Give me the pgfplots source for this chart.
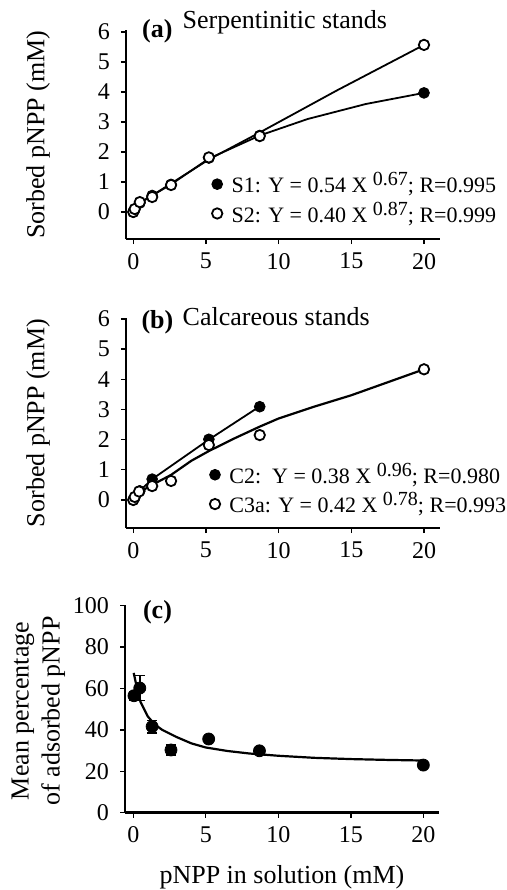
\documentclass[border=0pt]{standalone}
\usepackage{fontspec}
\setmainfont{Liberation Serif}
\usepackage{pgfplots}
\pgfplotsset{compat=1.18}

% 1 px of the reference = 0.5pt
\newcommand{\expo}[1]{\raisebox{3.5pt}{\fontsize{10}{12}\selectfont #1}}

\pgfplotsset{
  panel/.style={
    scale only axis, width=157pt, clip=false,
    axis x line=bottom, axis y line=left,
    axis line style={-, line width=1.4pt},
    tick align=outside, major tick length=2.5pt,
    tick style={line width=0.7pt, black},
    xmin=-0.5, xmax=21.1, xtick={0,5,10,15,20},
    ticklabel style={font=\fontsize{12}{14}\selectfont},
    yticklabel style={xshift=-2pt},
    xticklabel style={yshift=-1pt},
    /pgf/number format/assume math mode=true,
    label style={font=\fontsize{13}{15.5}\selectfont},
    ylabel style={at={(axis description cs:-0.28,0.5)}, anchor=center},
    legend style={draw=none, fill=none, font=\fontsize{11}{13}\selectfont,
      anchor=north west, row sep=-1pt, column sep=2.5pt, inner sep=0pt},
    legend cell align=left,
    legend image code/.code={\draw[mark repeat=2,mark phase=2,#1]
      plot coordinates {(0cm,0cm) (0.2cm,0cm) (0.4cm,0cm)};},
  },
  fitline/.style={black, line width=0.9pt, forget plot},
  openpt/.style={only marks, mark=*, mark size=2.6pt,
    mark options={fill=white, draw=black, line width=0.9pt}},
  fullpt/.style={only marks, mark=*, mark size=2.7pt,
    mark options={fill=black, draw=black}},
}

\begin{document}
\begin{tikzpicture}
\path[use as bounding box] (0,0) rectangle (253.5pt,-445pt);

% ---------- (a) serpentinitic
\begin{axis}[panel, at={(63pt,-119.5pt)}, anchor=south west,
    height=104.25pt, ymin=-0.9, ymax=6.05, ytick={0,...,6},
    ylabel={Sorbed pNPP (mM)},
    legend style={at={(axis description cs:0.272,0.34)}}]
\addplot[fitline] coordinates {
  (0,0) (0.45,0.3) (1.3,0.55) (2.6,0.92) (5.2,1.78) (8.7,2.55) (12,3.1) (16,3.6) (20,3.97)};
\addplot[fitline] coordinates {
  (0,0) (0.45,0.3) (1.3,0.55) (2.6,0.95) (5.2,1.75) (8.7,2.65) (14,4.05) (20,5.57)};
\addplot[fullpt, forget plot] coordinates {
  (0,0) (0.1,0.08) (0.45,0.3) (1.3,0.55) (2.6,0.92) (5.2,1.8) (8.7,2.55) (20,3.97)};
\addplot[openpt, forget plot] coordinates {
  (0,0) (0.1,0.1) (0.45,0.33) (1.3,0.5) (2.6,0.9) (5.2,1.82) (8.7,2.53) (20,5.57)};
\addlegendimage{fullpt}
\addlegendentry{S1: Y = 0.54 X \expo{0.67}; R=0.995}
\addlegendimage{openpt}
\addlegendentry{S2: Y = 0.40 X \expo{0.87}; R=0.999}
\node[font=\fontsize{13}{15}\selectfont, anchor=base]
  at (axis description cs:0.506,1.01) {Serpentinitic stands};
\node[font=\fontsize{13}{15}\selectfont\bfseries, anchor=base west]
  at (axis description cs:0.029,0.964) {(a)};
\end{axis}

% ---------- (b) calcareous
\begin{axis}[panel, at={(63pt,-264pt)}, anchor=south west,
    height=105pt, ymin=-0.93, ymax=6.03, ytick={0,...,6},
    ylabel={Sorbed pNPP (mM)},
    legend style={at={(axis description cs:0.265,0.33)}}]
\addplot[fitline] coordinates {
  (0,0) (0.1,0.07) (0.45,0.3) (1.3,0.69) (5.2,2.0) (8.7,3.1)};
\addplot[fitline, line width=1.1pt] coordinates {
  (0,0) (0.5,0.28) (1.3,0.5) (2.6,0.83) (4,1.3) (5.2,1.62) (7,2.05) (8.7,2.43)
  (10,2.7) (12.5,3.1) (15,3.47) (17.5,3.9) (20,4.33)};
\addplot[fullpt, forget plot] coordinates {
  (0,0) (0.1,0.07) (0.45,0.3) (1.3,0.69) (5.2,2.01) (8.7,3.09)};
\addplot[openpt, forget plot] coordinates {
  (0,0) (0.1,0.1) (0.4,0.28) (1.3,0.46) (2.6,0.63) (5.2,1.82) (8.7,2.15) (20,4.33)};
\addlegendimage{fullpt}
\addlegendentry{C2:\enspace Y = 0.38 X \expo{0.96}; R=0.980}
\addlegendimage{openpt}
\addlegendentry{C3a: Y = 0.42 X \expo{0.78}; R=0.993}
\node[font=\fontsize{13}{15}\selectfont, anchor=base west]
  at (axis description cs:0.158,0.962) {Calcareous stands};
\node[font=\fontsize{13}{15}\selectfont\bfseries, anchor=base west]
  at (axis description cs:0.027,0.952) {(b)};
\end{axis}

% ---------- (c) percentage adsorbed
\begin{axis}[panel, at={(62.5pt,-406.35pt)}, anchor=south west,
    height=103.85pt, xmin=-0.57, xmax=21.08,
    ymin=0, ymax=100.3, ytick={0,20,...,100},
    ylabel={Mean percentage\\of adsorbed pNPP},
    ylabel style={align=center, at={(axis description cs:-0.276,0.49)}},
    xlabel={pNPP in solution (mM)},
    xlabel style={at={(axis description cs:0.5,-0.31)}, anchor=center}]
\addplot[fitline, line width=1.1pt] coordinates {
  (0.03,67.5) (0.2,62) (0.5,53.5) (1,46.5) (1.5,42.5) (2,40) (3,36.5) (4,33.5)
  (5,31.5) (6.5,29.8) (8,28.6) (10,27.5) (12.5,26.5) (15,25.9) (17.5,25.5) (20,25.2)};
\addplot[only marks, mark=*, mark size=3pt, mark options={fill=black},
    error bars/.cd, y dir=both, y explicit,
    error bar style={line width=0.8pt, black},
    error mark options={line width=0.8pt, mark size=2.5pt, rotate=90}]
  table[x=x, y=y, y error=e] {
  x    y    e
  0.05 56.5 2
  0.45 60.2 6
  1.3  41.6 3
  2.6  30.3 2.5
  5.2  35.6 1
  8.7  29.9 1
  20   23.0 1
  };
\node[font=\fontsize{13}{15}\selectfont\bfseries, anchor=base west]
  at (axis description cs:0.035,0.937) {(c)};
\end{axis}
\end{tikzpicture}
\end{document}
